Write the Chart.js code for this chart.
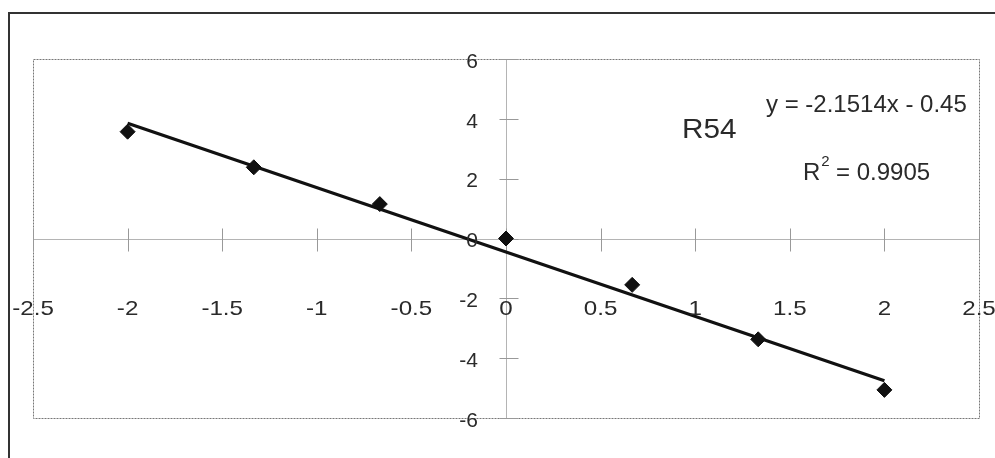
<!DOCTYPE html>
<html>
<head>
<meta charset="utf-8">
<script src="https://cdn.jsdelivr.net/npm/chart.js@4.4.1/dist/chart.umd.min.js"></script>
<style>
  html, body { margin: 0; padding: 0; background: #fff; }
  canvas { display: block; }
</style>
</head>
<body>
<canvas id="chart" width="995" height="458"></canvas>
<script>
// Sample R54: measured points and fitted line
const xValues = [-2, -1.333, -0.667, 0, 0.667, 1.333, 2];
const yValues = [3.57, 2.38, 1.15, 0, -1.55, -3.37, -5.06];

const SLOPE = -2.1514;
const INTERCEPT = -0.45;
const R_SQUARED = '0.9905';
const SERIES_NAME = 'R54';

const xTicks = [-2.5, -2, -1.5, -1, -0.5, 0, 0.5, 1, 1.5, 2, 2.5];
const yTicks = [-6, -4, -2, 0, 2, 4, 6];

const points = xValues.map((x, i) => ({ x, y: yValues[i] }));
const trendEnds = [xValues[0], xValues[xValues.length - 1]];
const trendPoints = trendEnds.map(x => ({ x, y: SLOPE * x + INTERCEPT }));

const TEXT = '#2a2a2a';
const FONT = '"Liberation Sans", Arial, sans-serif';

// draw text with an optional horizontal stretch
const drawText = (ctx, str, x, y, size, align, baseline, sx = 1) => {
    ctx.save();
    ctx.font = `${size}px ${FONT}`;
    ctx.fillStyle = TEXT;
    ctx.textAlign = align;
    ctx.textBaseline = baseline;
    ctx.translate(x, y);
    ctx.scale(sx, 1);
    ctx.fillText(str, 0, 0);
    ctx.restore();
};

// Excel-like frame, crossing axes and tick marks
const axesPlugin = {
    id: 'excelAxes',
    beforeDraw(chart) {
        const { ctx } = chart;
        ctx.save();
        ctx.fillStyle = '#fff';
        ctx.fillRect(0, 0, chart.width, chart.height);
        // outer chart border
        ctx.strokeStyle = '#333';
        ctx.lineWidth = 2;
        ctx.strokeRect(9, 13, 1000, 500);
        ctx.restore();
    },
    beforeDatasetsDraw(chart) {
        const { ctx, chartArea: a, scales: { x, y } } = chart;
        const x0 = Math.round(x.getPixelForValue(0)) + 0.5;
        const y0 = Math.round(y.getPixelForValue(0)) + 0.5;

        ctx.save();
        // plot area border
        ctx.strokeStyle = '#777';
        ctx.lineWidth = 1;
        ctx.setLineDash([2, 1]);
        ctx.strokeRect(Math.round(a.left) + 0.5, Math.round(a.top) + 0.5,
            Math.round(a.right - a.left), Math.round(a.bottom - a.top));
        ctx.setLineDash([]);

        // axis lines through the origin
        ctx.strokeStyle = '#b4b4b4';
        ctx.beginPath();
        ctx.moveTo(a.left, y0);
        ctx.lineTo(a.right, y0);
        ctx.moveTo(x0, a.top);
        ctx.lineTo(x0, a.bottom);
        ctx.stroke();

        // cross tick marks
        ctx.strokeStyle = '#999';
        ctx.beginPath();
        xTicks.forEach(v => {
            const px = Math.round(x.getPixelForValue(v)) + 0.5;
            ctx.moveTo(px, y0 - 11);
            ctx.lineTo(px, y0 + 12);
        });
        yTicks.forEach(v => {
            const py = Math.round(y.getPixelForValue(v)) + 0.5;
            ctx.moveTo(x0 - 7, py);
            ctx.lineTo(x0 + 12, py);
        });
        ctx.stroke();
        ctx.restore();
    },
    afterDraw(chart) {
        const { ctx, scales: { x, y } } = chart;
        const x0 = x.getPixelForValue(0);

        xTicks.forEach(v => {
            drawText(ctx, String(v), x.getPixelForValue(v), 309, 21, 'center', 'middle', 1.15);
        });
        yTicks.forEach(v => {
            drawText(ctx, String(v), x0 - 28, y.getPixelForValue(v) + 3, 21, 'right', 'middle', 1.0);
        });

        // series name and trendline equation
        drawText(ctx, SERIES_NAME, 682, 131, 27, 'left', 'middle', 1.1);
        const sign = INTERCEPT < 0 ? '-' : '+';
        drawText(ctx, `y = ${SLOPE}x ${sign} ${Math.abs(INTERCEPT)}`, 766, 112, 24, 'left', 'alphabetic');

        ctx.save();
        ctx.font = `24px ${FONT}`;
        const rw = ctx.measureText('R').width;
        ctx.restore();
        drawText(ctx, 'R', 803, 180, 24, 'left', 'alphabetic');
        drawText(ctx, '2', 803 + rw + 1, 166, 15, 'left', 'alphabetic');
        drawText(ctx, ` = ${R_SQUARED}`, 803 + rw + 9, 180, 24, 'left', 'alphabetic');
    }
};

new Chart(document.getElementById('chart').getContext('2d'), {
    type: 'scatter',
    data: {
        datasets: [
            {
                label: SERIES_NAME,
                data: points,
                pointStyle: 'rectRot',
                pointRadius: 7.5,
                backgroundColor: '#111',
                borderColor: '#111',
                borderWidth: 1,
                order: 0
            },
            {
                label: 'Linear (' + SERIES_NAME + ')',
                data: trendPoints,
                showLine: true,
                borderColor: '#111',
                borderWidth: 3.2,
                pointRadius: 0,
                fill: false,
                order: 1
            }
        ]
    },
    options: {
        responsive: false,
        animation: false,
        layout: {
            padding: { left: 33, top: 59, right: 16, bottom: 40 }
        },
        scales: {
            x: { type: 'linear', min: -2.5, max: 2.5, display: false },
            y: { type: 'linear', min: -6, max: 6, display: false }
        },
        plugins: {
            legend: { display: false },
            tooltip: { enabled: false }
        }
    },
    plugins: [axesPlugin]
});
</script>
</body>
</html>
